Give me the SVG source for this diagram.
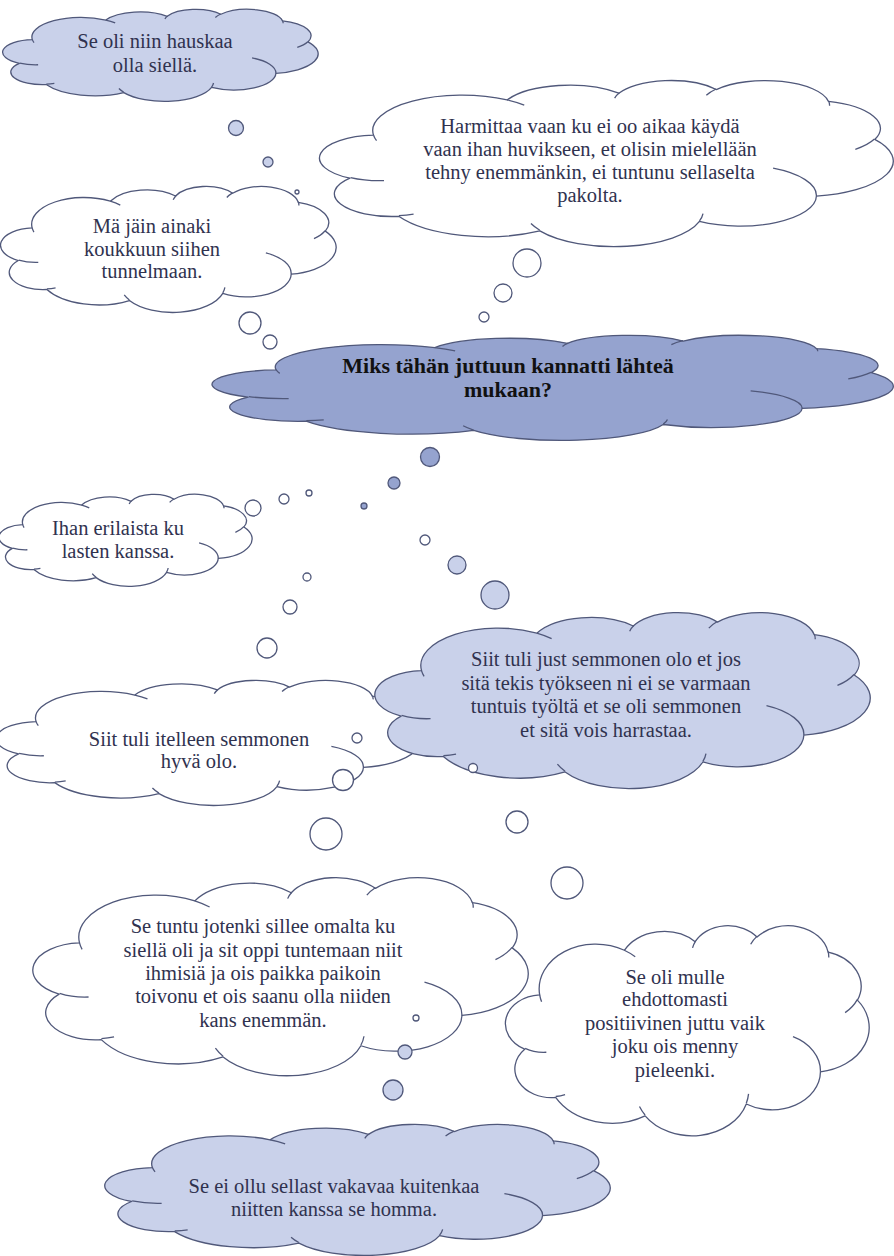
<svg xmlns="http://www.w3.org/2000/svg" xmlns:xlink="http://www.w3.org/1999/xlink" width="894" height="1256" viewBox="0 0 894 1256">
<style>
.cl path{stroke:#50587a;stroke-width:1.3;vector-effect:non-scaling-stroke;stroke-linejoin:round}
.crease{fill:none}
.t{font-family:"Liberation Serif","Times New Roman",serif;font-size:20.5px;fill:#30324f;text-anchor:middle}
.tb{font-family:"Liberation Serif","Times New Roman",serif;font-size:22px;font-weight:bold;fill:#111;text-anchor:middle}
.w{fill:#ffffff}
.b{fill:#c9d1ea}
.d{fill:#95a3cf}
.bub circle{stroke:#50587a;stroke-width:1.3}
</style>
<defs>
<symbol id="cloud" class="cl" viewBox="0 0 43200 43200" preserveAspectRatio="none" overflow="visible">
<path d="M3900 14370A6753 9190 0 0 1 14005 5201A5333 7267 0 0 1 22456 3431A4365 5945 0 0 1 29833 2482A4857 6595 0 0 1 38318 5578A5333 7273 0 0 1 41819 15462A6775 9220 0 0 1 37406 30206A5785 7867 0 0 1 28557 36817A6752 9215 0 0 1 16482 39271A7720 10543 0 0 1 5805 35477A4360 5918 0 0 1 2114 25554A4345 5945 0 0 1 3900 14370Z"/>
<path class="crease" d="M4693 26177A4345 5945 0 0 1 2159 25379M6928 34899A4360 5918 0 0 1 5819 35281M16478 39090A6752 9215 0 0 1 15809 37347M28827 34751A6752 9215 0 0 1 28560 36661M34129 22954A5785 7867 0 0 1 37406 30206M41798 15354A5333 7273 0 0 1 40349 18031M38324 5426A4857 6595 0 0 1 38401 6689M29078 3952A4857 6595 0 0 1 29820 2339M22141 4720A4365 5945 0 0 1 22501 3328M14000 5192A6753 9190 0 0 1 15301 6542M4127 15789A6753 9190 0 0 1 3900 14372"/>
</symbol>
</defs>
<rect width="894" height="1256" fill="#ffffff"/>

<g id="n1">
<use xlink:href="#cloud" href="#cloud" class="b" x="4" y="9" width="314" height="92"/>
<text class="t" x="155" y="48">Se oli niin hauskaa</text>
<text class="t" x="155" y="72">olla siellä.</text>
</g>

<g id="n2">
<use xlink:href="#cloud" href="#cloud" class="w" x="322" y="80" width="571" height="166"/>
<text class="t" x="590" y="133">Harmittaa vaan ku ei oo aikaa käydä</text>
<text class="t" x="590" y="156">vaan ihan huvikseen, et olisin mielellään</text>
<text class="t" x="590" y="179">tehny enemmänkin, ei tuntunu sellaselta</text>
<text class="t" x="590" y="202">pakolta.</text>
</g>

<g id="n3">
<use xlink:href="#cloud" href="#cloud" class="w" x="2" y="186" width="334" height="126"/>
<text class="t" x="152" y="233">Mä jäin ainaki</text>
<text class="t" x="152" y="256">koukkuun siihen</text>
<text class="t" x="152" y="278">tunnelmaan.</text>
</g>

<g id="n4">
<use xlink:href="#cloud" href="#cloud" class="d" x="215" y="335" width="678" height="105"/>
<text class="tb" x="508" y="373">Miks tähän juttuun kannatti lähteä</text>
<text class="tb" x="508" y="397">mukaan?</text>
</g>

<g id="n5">
<use xlink:href="#cloud" href="#cloud" class="w" x="0" y="494" width="252" height="92"/>
<text class="t" x="118" y="535">Ihan erilaista ku</text>
<text class="t" x="118" y="558">lasten kanssa.</text>
</g>

<g id="n7">
<use xlink:href="#cloud" href="#cloud" class="w" x="-2" y="680" width="422" height="125"/>
<text class="t" x="199" y="746">Siit tuli itelleen semmonen</text>
<text class="t" x="199" y="768">hyvä olo.</text>
</g>

<g id="n6">
<use xlink:href="#cloud" href="#cloud" class="b" x="377" y="612" width="493" height="176"/>
<text class="t" x="606" y="666">Siit tuli just semmonen olo et jos</text>
<text class="t" x="606" y="690">sitä tekis työkseen ni ei se varmaan</text>
<text class="t" x="606" y="713">tuntuis työltä et se oli semmonen</text>
<text class="t" x="606" y="737">et sitä vois harrastaa.</text>
</g>

<g id="n8">
<use xlink:href="#cloud" href="#cloud" class="w" x="35" y="877" width="493" height="198"/>
<text class="t" x="263" y="933">Se tuntu jotenki sillee omalta ku</text>
<text class="t" x="263" y="957">siellä oli ja sit oppi tuntemaan niit</text>
<text class="t" x="263" y="980">ihmisiä ja ois paikka paikoin</text>
<text class="t" x="263" y="1003">toivonu et ois saanu olla niiden</text>
<text class="t" x="263" y="1027">kans enemmän.</text>
</g>

<g id="n9">
<use xlink:href="#cloud" href="#cloud" class="w" x="507" y="925" width="362" height="210"/>
<text class="t" x="675" y="984">Se oli mulle</text>
<text class="t" x="675" y="1006">ehdottomasti</text>
<text class="t" x="675" y="1030">positiivinen juttu vaik</text>
<text class="t" x="675" y="1053">joku ois menny</text>
<text class="t" x="675" y="1077">pieleenki.</text>
</g>

<g id="n10">
<use xlink:href="#cloud" href="#cloud" class="b" x="107" y="1124" width="503" height="131"/>
<text class="t" x="334" y="1193">Se ei ollu sellast vakavaa kuitenkaa</text>
<text class="t" x="334" y="1216">niitten kanssa se homma.</text>
</g>

<g id="connectors" class="bub">
<circle class="b" cx="236" cy="128" r="7.5"/>
<circle class="b" cx="268" cy="162" r="5"/>
<circle class="w" cx="297" cy="192" r="2"/>
<circle class="w" cx="527" cy="263" r="14"/>
<circle class="w" cx="503" cy="293" r="9"/>
<circle class="w" cx="484" cy="317" r="5"/>
<circle class="w" cx="250" cy="323" r="11"/>
<circle class="w" cx="270" cy="342" r="7"/>
<circle class="d" cx="430" cy="457" r="9.5"/>
<circle class="d" cx="394" cy="483" r="6"/>
<circle class="d" cx="364" cy="506" r="3"/>
<circle class="w" cx="253" cy="508" r="8"/>
<circle class="w" cx="284" cy="499" r="5"/>
<circle class="w" cx="309" cy="493" r="3"/>
<circle class="w" cx="425" cy="540" r="5"/>
<circle class="b" cx="457" cy="565" r="9"/>
<circle class="b" cx="495" cy="595" r="14"/>
<circle class="w" cx="307" cy="577" r="4"/>
<circle class="w" cx="290" cy="607" r="7"/>
<circle class="w" cx="267" cy="648" r="10"/>
<circle class="w" cx="357" cy="738" r="5"/>
<circle class="w" cx="343" cy="780" r="10.5"/>
<circle class="w" cx="326" cy="834" r="16"/>
<circle class="w" cx="473" cy="768" r="4.5"/>
<circle class="w" cx="517" cy="822" r="11"/>
<circle class="w" cx="567" cy="883" r="16"/>
<circle class="w" cx="416" cy="1018" r="3"/>
<circle class="b" cx="405" cy="1052" r="7"/>
<circle class="b" cx="393" cy="1090" r="10"/>
</g>
</svg>
